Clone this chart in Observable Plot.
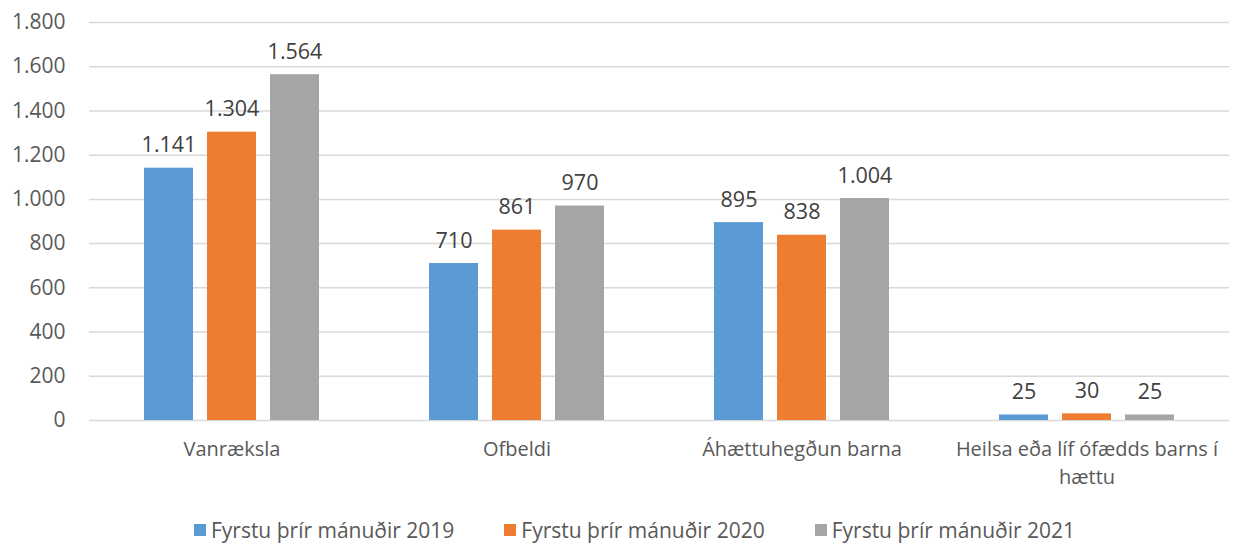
<!DOCTYPE html>
<html><head><meta charset="utf-8">
<script src="https://cdn.jsdelivr.net/npm/d3@7"></script>
<script src="https://cdn.jsdelivr.net/npm/@observablehq/plot@0.6"></script>
<style>
body{margin:0;background:#fff;font-family:"Open Sans",sans-serif;}
#legend{display:flex;justify-content:center;gap:50px;font-size:21px;color:#595959;padding-left:35px;height:43px;align-items:center;margin-top:8px}
.item{display:flex;align-items:center;gap:5px}
.sw{width:12px;height:12px;display:inline-block}
g[aria-label="y-axis tick label"], g[aria-label="y-axis tick label"] text{font-size:21px !important}
g[aria-label="fx-axis tick label"], g[aria-label="fx-axis tick label"] text{font-size:20px !important}
</style></head><body><div id="chart"></div><div id="legend"></div>
<script>
const categories = ["Vanræksla", "Ofbeldi", "Áhættuhegðun barna", "Heilsa eða líf ófædds barns í hættu"];
const categoryLabels = ["Vanræksla", "Ofbeldi", "Áhættuhegðun barna", "Heilsa eða líf ófædds barns í\nhættu"];
const seriesNames = ["Fyrstu þrír mánuðir 2019", "Fyrstu þrír mánuðir 2020", "Fyrstu þrír mánuðir 2021"];
const values2019 = [1141, 710, 895, 25];
const values2020 = [1304, 861, 838, 30];
const values2021 = [1564, 970, 1004, 25];
const seriesColors = ["#5B9BD5", "#ED7D31", "#A5A5A5"];
const yTicks = [0, 200, 400, 600, 800, 1000, 1200, 1400, 1600, 1800];

const allValues = [values2019, values2020, values2021];
const data = [];
categories.forEach((c, i) => seriesNames.forEach((s, j) => data.push({category: c, series: s, value: allValues[j][i]})));
const labelMap = new Map(categories.map((c, i) => [c, categoryLabels[i]]));
const fmt = d3.formatLocale({decimal: ",", thousands: ".", grouping: [3], currency: ["", ""]}).format(",d");

const chart = Plot.plot({
  width: 1234, height: 500,
  marginLeft: 88, marginRight: 4, marginTop: 22, marginBottom: 80,
  style: {fontFamily: "'Open Sans', sans-serif", fontSize: "20px", color: "#595959", background: "#fff"},
  fx: {domain: categories, padding: 0, label: null},
  x: {domain: seriesNames, axis: null, paddingInner: 0.21875, paddingOuter: 0.84},
  y: {domain: [0, 1800], axis: null},
  color: {domain: seriesNames, range: seriesColors},
  marks: [
    Plot.gridY(yTicks, {stroke: "#d9d9d9", strokeOpacity: 1, strokeWidth: 1.5}),
    Plot.axisY(yTicks, {tickSize: 0, tickPadding: 24, tickFormat: fmt, fontSize: 21, fill: "#595959", label: null}),
    Plot.axisFx({anchor: "bottom", tickSize: 0, tickPadding: 16, tickFormat: d => labelMap.get(d), lineHeight: 1.4, fontSize: 20, fill: "#595959", label: null}),
    Plot.barY(data, {fx: "category", x: "series", y: "value", fill: "series"}),
    Plot.text(data, {fx: "category", x: "series", y: "value", text: d => fmt(d.value), dy: -16, lineAnchor: "bottom", fontSize: 21.5, fill: "#404040"})
  ]
});
document.getElementById("chart").appendChild(chart);
const legend = document.getElementById("legend");
seriesNames.forEach((s, i) => {
  const it = document.createElement("div"); it.className = "item";
  const sw = document.createElement("span"); sw.className = "sw"; sw.style.background = seriesColors[i];
  const t = document.createElement("span"); t.textContent = s;
  it.appendChild(sw); it.appendChild(t); legend.appendChild(it);
});
</script></body></html>
